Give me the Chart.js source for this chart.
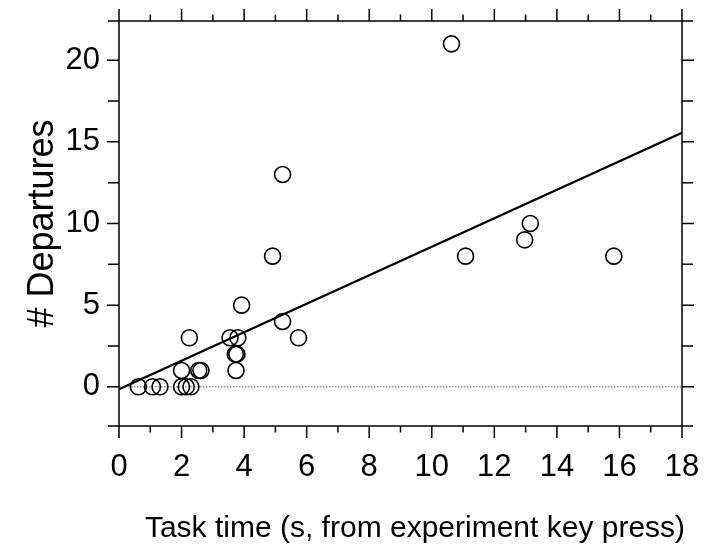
<!DOCTYPE html>
<html><head><meta charset="utf-8">
<script src="https://cdn.jsdelivr.net/npm/chart.js@4/dist/chart.umd.min.js"></script>
<style>html,body{margin:0;padding:0;background:#fff}canvas{display:block}</style>
</head><body>
<canvas id="c" width="704" height="550"></canvas>
<script>
// ---- data ----
const taskTime   = [0.62,1.07,1.31,2.0,2.15,2.3,2.0,2.55,2.62,2.25,3.55,3.8,3.72,3.77,3.74,3.92,4.91,5.23,5.23,5.74,10.63,11.08,12.97,13.15,15.82];
const departures = [0,0,0,0,0,0,1,1,1,3,3,3,2,2,1,5,8,13,4,3,21,8,9,10,8];
const fitX = [0, 18];
const fitY = [-0.15, 15.55];
const xTicks = [0,2,4,6,8,10,12,14,16,18];
const xMinorTicks = [1,3,5,7,9,11,13,15,17];
const yTicks = [0,5,10,15,20];
const yMinorTicks = [2.5,7.5,12.5,17.5];
const xRange = [0, 18];
const yRange = [-2.4, 22.4];
const xTitle = 'Task time (s, from experiment key press)';
const yTitle = '# Departures';

const FONT = "'Liberation Sans', Arial, Helvetica, sans-serif";

const framePlugin = {
  id: 'frame',
  beforeDatasetsDraw(chart) {
    const {ctx, chartArea: a, scales: {y}} = chart;
    const y0 = y.getPixelForValue(0);
    ctx.save();
    ctx.strokeStyle = '#666';
    ctx.lineWidth = 1;
    ctx.setLineDash([1.5, 1.5]);
    ctx.beginPath();
    ctx.moveTo(a.left, y0); ctx.lineTo(a.right, y0);
    ctx.stroke();
    ctx.restore();
  },
  afterDraw(chart) {
    const {ctx, chartArea: a, scales: {x, y}} = chart;
    const ext = 11;
    ctx.save();
    ctx.strokeStyle = '#000';
    ctx.lineWidth = 1.5;
    ctx.beginPath();
    ctx.moveTo(a.left - ext, a.top); ctx.lineTo(a.right + ext, a.top);
    ctx.moveTo(a.left - ext, a.bottom); ctx.lineTo(a.right + ext, a.bottom);
    ctx.moveTo(a.left, a.top - ext); ctx.lineTo(a.left, a.bottom + ext);
    ctx.moveTo(a.right, a.top - ext); ctx.lineTo(a.right, a.bottom + ext);
    const xt = (v, len) => {
      const px = x.getPixelForValue(v);
      ctx.moveTo(px, a.top); ctx.lineTo(px, a.top - len);
      ctx.moveTo(px, a.bottom); ctx.lineTo(px, a.bottom + len);
    };
    const yt = (v, len) => {
      const py = y.getPixelForValue(v);
      ctx.moveTo(a.left, py); ctx.lineTo(a.left - len, py);
      ctx.moveTo(a.right, py); ctx.lineTo(a.right + len, py);
    };
    xTicks.forEach(v => xt(v, 12));
    xMinorTicks.forEach(v => xt(v, 6.5));
    yTicks.forEach(v => yt(v, 12));
    yMinorTicks.forEach(v => yt(v, 11));
    ctx.stroke();
    ctx.fillStyle = '#000';
    ctx.font = '30px ' + FONT;
    ctx.textAlign = 'center';
    ctx.textBaseline = 'alphabetic';
    ctx.fillText(xTitle, 415, 537);
    ctx.translate(53, (a.top + a.bottom) / 2);
    ctx.rotate(-Math.PI / 2);
    ctx.font = '36px ' + FONT;
    ctx.fillText(yTitle, 0, 0);
    ctx.restore();
  }
};

const zeroPad = s => { s.paddingTop = 0; s.paddingBottom = 0; s.paddingLeft = 0; s.paddingRight = 0; };

const points = taskTime.map((t, i) => ({x: t, y: departures[i]}));
const fitLine = fitX.map((t, i) => ({x: t, y: fitY[i]}));

new Chart(document.getElementById('c'), {
  type: 'scatter',
  data: {
    datasets: [
      {type: 'line', data: fitLine, borderColor: '#000', borderWidth: 2.2, pointRadius: 0, fill: false, tension: 0},
      {data: points, pointStyle: 'circle', pointRadius: 8, pointHoverRadius: 8,
       pointBorderWidth: 1.6, borderColor: '#000', backgroundColor: 'rgba(0,0,0,0)'}
    ]
  },
  options: {
    responsive: false,
    animation: false,
    devicePixelRatio: 1,
    events: [],
    layout: {padding: {top: 21, right: 22, left: 0, bottom: 0}},
    plugins: {legend: {display: false}, tooltip: {enabled: false}},
    scales: {
      x: {
        type: 'linear', min: xRange[0], max: xRange[1],
        grid: {display: false, drawTicks: false}, border: {display: false},
        afterBuildTicks: s => { s.ticks = xTicks.map(v => ({value: v})); },
        afterFit: s => { s.height = 124; zeroPad(s); },
        ticks: {font: {family: FONT, size: 31}, color: '#000', padding: 23, maxRotation: 0, autoSkip: false}
      },
      y: {
        type: 'linear', min: yRange[0], max: yRange[1],
        grid: {display: false, drawTicks: false}, border: {display: false},
        afterBuildTicks: s => { s.ticks = yTicks.map(v => ({value: v})); },
        afterFit: s => { s.width = 119; zeroPad(s); },
        ticks: {font: {family: FONT, size: 31}, color: '#000', padding: 19, autoSkip: false}
      }
    }
  },
  plugins: [framePlugin]
});
</script>
</body></html>
